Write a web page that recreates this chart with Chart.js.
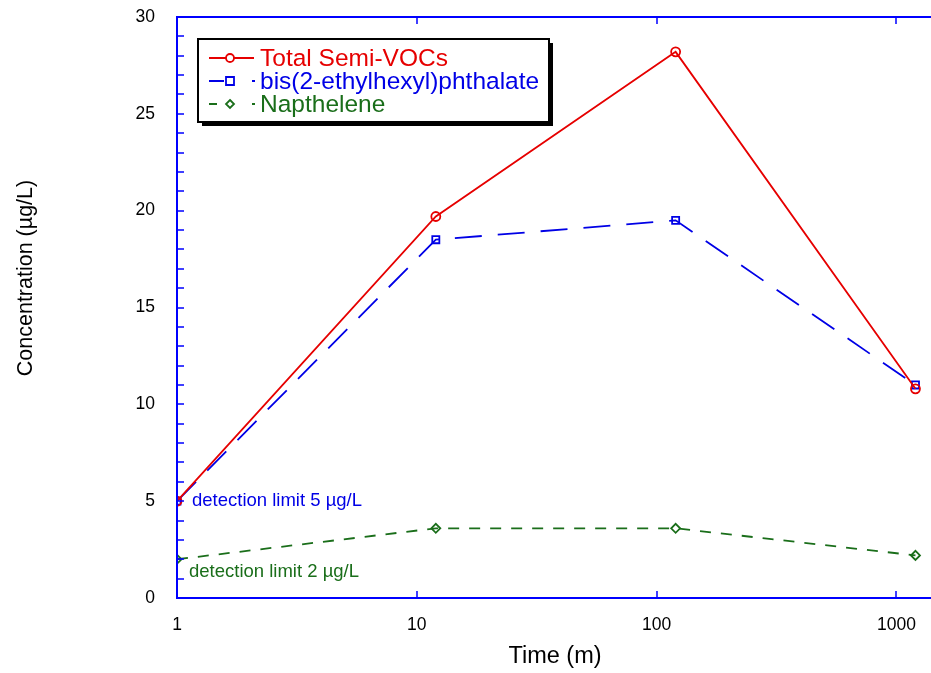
<!DOCTYPE html>
<html>
<head>
<meta charset="utf-8">
<script src="https://cdn.jsdelivr.net/npm/chart.js@4.4.1/dist/chart.umd.min.js"></script>
<style>
  html, body { margin: 0; padding: 0; background: #fff; }
  #wrap { width: 931px; height: 673px; }
</style>
</head>
<body>
<div id="wrap"><canvas id="concChart" width="931" height="673"></canvas></div>
<script>
// Sampling times (minutes) and measured concentrations (µg/L)
const times = [1, 12, 120, 1200];
const totalSemiVOCs = [5, 19.7, 28.2, 10.8];
const bisPhthalate = [5, 18.5, 19.5, 11.0];
const napthelene = [2, 3.6, 3.6, 2.2];
const xTicks = [1, 10, 100, 1000];
const yTicks = [0, 5, 10, 15, 20, 25, 30];

const seriesNames = ['Total Semi-VOCs', 'bis(2-ethylhexyl)phthalate', 'Napthelene'];
const detectionNotes = [
    { text: 'detection limit 5 µg/L', y: 5, color: '#0000e6', dx: 15, dy: 0 },
    { text: 'detection limit 2 µg/L', y: 2, color: '#1a6e1a', dx: 12, dy: 13 }
];

const RED = '#e60000';
const BLUE = '#0000e6';
const GREEN = '#1a6e1a';
const AXIS = '#0000ff';
const FONT = '"Liberation Sans", Arial, sans-serif';

function toPoints(vals) {
    return times.map((t, i) => ({ x: t, y: vals[i] }));
}

// Draw a single marker shape, used in the legend box
function drawMarker(ctx, style, x, y, color) {
    ctx.save();
    ctx.strokeStyle = color;
    ctx.fillStyle = '#fff';
    ctx.lineWidth = 1.8;
    ctx.beginPath();
    if (style === 'circle') {
        ctx.arc(x, y, 4, 0, Math.PI * 2);
    } else if (style === 'rect') {
        ctx.rect(x - 4, y - 4, 8, 8);
    } else {
        ctx.moveTo(x, y - 4); ctx.lineTo(x + 4, y); ctx.lineTo(x, y + 4); ctx.lineTo(x - 4, y); ctx.closePath();
    }
    ctx.fill();
    ctx.stroke();
    ctx.restore();
}

// Frame, inward ticks, titles, notes and legend
const decorations = {
    id: 'decorations',
    afterDatasetsDraw(chart) {
        const ctx = chart.ctx;
        const area = chart.chartArea;
        const xs = chart.scales.x;
        const ys = chart.scales.y;
        const right = chart.width;
        ctx.save();

        // axis frame (left, bottom, top)
        ctx.strokeStyle = AXIS;
        ctx.lineWidth = 2;
        ctx.beginPath();
        ctx.moveTo(right, area.top);
        ctx.lineTo(area.left, area.top);
        ctx.lineTo(area.left, area.bottom);
        ctx.lineTo(right, area.bottom);
        ctx.stroke();

        // y ticks every unit, pointing into the plot
        ctx.lineWidth = 1.5;
        ctx.beginPath();
        for (let v = 0; v <= 30; v++) {
            const py = Math.round(ys.getPixelForValue(v));
            ctx.moveTo(area.left, py);
            ctx.lineTo(area.left + 7, py);
        }
        // x ticks on top and bottom
        xTicks.forEach(t => {
            const px = Math.round(xs.getPixelForValue(t));
            ctx.moveTo(px, area.bottom);
            ctx.lineTo(px, area.bottom - 7);
            ctx.moveTo(px, area.top);
            ctx.lineTo(px, area.top + 7);
        });
        ctx.stroke();

        // axis titles
        ctx.fillStyle = '#000';
        ctx.textAlign = 'center';
        ctx.textBaseline = 'middle';
        ctx.font = '23.5px ' + FONT;
        ctx.fillText('Time (m)', 555, 657);
        ctx.font = '21.5px ' + FONT;
        ctx.save();
        ctx.translate(26, 278);
        ctx.rotate(-Math.PI / 2);
        ctx.fillText('Concentration (µg/L)', 0, 0);
        ctx.restore();

        // detection limit notes
        ctx.font = '18.5px ' + FONT;
        ctx.textAlign = 'left';
        detectionNotes.forEach(n => {
            ctx.fillStyle = n.color;
            ctx.fillText(n.text, area.left + n.dx, ys.getPixelForValue(n.y) + n.dy);
        });

        // legend box with drop shadow
        const bx = 198, by = 39, bw = 351, bh = 83;
        ctx.fillStyle = '#000';
        ctx.fillRect(bx + 4, by + 4, bw, bh);
        ctx.fillStyle = '#fff';
        ctx.fillRect(bx, by, bw, bh);
        ctx.strokeStyle = '#000';
        ctx.lineWidth = 2;
        ctx.strokeRect(bx, by, bw, bh);

        const rows = [58, 81, 104];
        ctx.font = '24.5px ' + FONT;
        chart.data.datasets.forEach((ds, i) => {
            const ry = rows[i];
            ctx.strokeStyle = ds.borderColor;
            ctx.lineWidth = 1.8;
            ctx.beginPath();
            if (i === 0) {
                ctx.moveTo(209, ry); ctx.lineTo(254, ry);
            } else {
                ctx.moveTo(209, ry); ctx.lineTo(i === 1 ? 224 : 217, ry);
                ctx.moveTo(252, ry); ctx.lineTo(255, ry);
            }
            ctx.stroke();
            drawMarker(ctx, ds.pointStyle, 230, ry, ds.borderColor);
            ctx.fillStyle = ds.borderColor;
            ctx.fillText(ds.label, 260, ry + 1);
        });
        ctx.restore();
    }
};

const ctx = document.getElementById('concChart').getContext('2d');
const chart = new Chart(ctx, {
    type: 'scatter',
    data: {
        datasets: [{
            label: seriesNames[0],
            data: toPoints(totalSemiVOCs),
            showLine: true,
            borderColor: RED,
            backgroundColor: 'rgba(255,255,255,0)',
            borderWidth: 1.8,
            pointStyle: 'circle',
            pointRadius: 4.5,
            pointBorderWidth: 1.8
        }, {
            label: seriesNames[1],
            data: toPoints(bisPhthalate),
            showLine: true,
            borderColor: BLUE,
            backgroundColor: 'rgba(255,255,255,0)',
            borderWidth: 1.8,
            borderDash: [27, 16],
            pointStyle: 'rect',
            pointRadius: 5,
            pointBorderWidth: 1.8
        }, {
            label: seriesNames[2],
            data: toPoints(napthelene),
            showLine: true,
            borderColor: GREEN,
            backgroundColor: 'rgba(255,255,255,0)',
            borderWidth: 1.8,
            borderDash: [11, 10],
            pointStyle: 'rectRot',
            pointRadius: 4.5,
            pointBorderWidth: 1.8
        }]
    },
    options: {
        responsive: false,
        animation: false,
        layout: { padding: { top: 17, left: 0, right: 0, bottom: 0 } },
        plugins: {
            legend: { display: false },
            tooltip: { enabled: false }
        },
        scales: {
            x: {
                type: 'logarithmic',
                min: 1,
                max: 1305,
                grid: { display: false },
                border: { display: false },
                afterBuildTicks: scale => { scale.ticks = xTicks.map(v => ({ value: v })); },
                afterFit: scale => { scale.height = 75; },
                ticks: {
                    padding: 9,
                    color: '#000',
                    font: { family: FONT, size: 17.5 },
                    maxRotation: 0,
                    callback: v => String(v)
                }
            },
            y: {
                min: 0,
                max: 30,
                grid: { display: false },
                border: { display: false },
                afterBuildTicks: scale => { scale.ticks = yTicks.map(v => ({ value: v })); },
                afterFit: scale => {
                    scale.width = 177;
                    scale.paddingTop = 0;
                    scale.paddingBottom = 0;
                },
                ticks: {
                    padding: 14,
                    color: '#000',
                    font: { family: FONT, size: 17.5 },
                    callback: v => String(v)
                }
            }
        }
    },
    plugins: [decorations]
});
</script>
</body>
</html>
